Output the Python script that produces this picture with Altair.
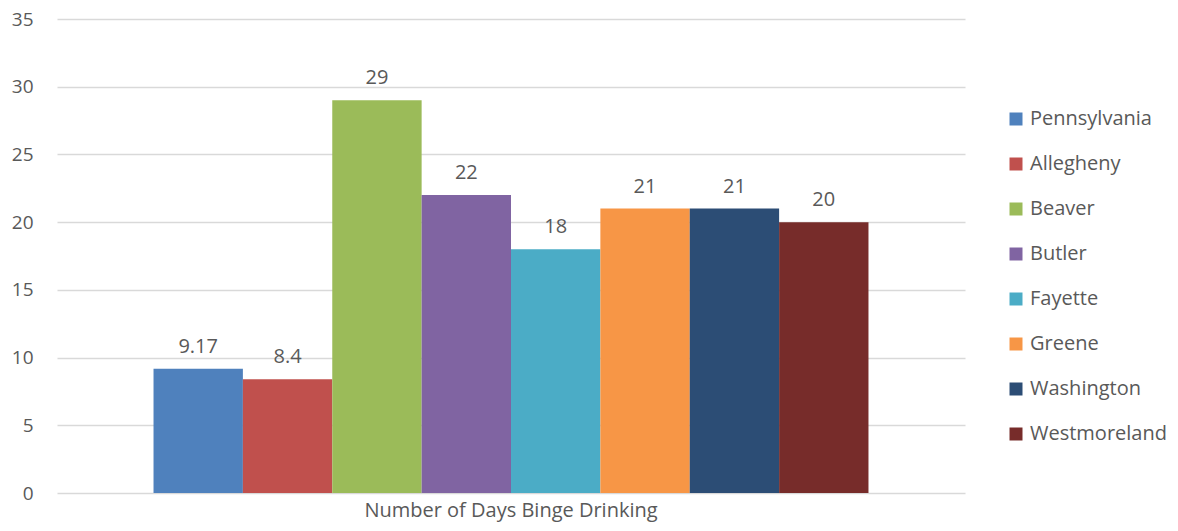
import altair as alt
import pandas as pd

counties = ["Pennsylvania", "Allegheny", "Beaver", "Butler", "Fayette", "Greene", "Washington", "Westmoreland"]
values = [9.17, 8.4, 29, 22, 18, 21, 21, 20]
labels = ["9.17", "8.4", "29", "22", "18", "21", "21", "20"]
colors = ["#4F81BD", "#C0504D", "#9BBB59", "#8064A2", "#4BACC6", "#F79646", "#2C4D75", "#772C2A"]
category = "Number of Days Binge Drinking"

df = pd.DataFrame({"county": counties, "value": values, "label": labels, "metric": [category] * len(counties)})

FONT = "Open Sans"
GREY = "#595959"

x = alt.X("metric:N", scale=alt.Scale(paddingOuter=0.135, paddingInner=0),
          axis=alt.Axis(title=None, labelFontSize=20, labelColor=GREY, labelFont=FONT, labelLimit=0,
                        domain=False, ticks=False, tickSize=0, labelPadding=7, labelAngle=0))
xo = alt.XOffset("county:N", sort=counties, scale=alt.Scale(paddingInner=0, paddingOuter=0))
y = alt.Y("value:Q", scale=alt.Scale(domain=[0, 35], nice=False),
          axis=alt.Axis(title=None, values=[0, 5, 10, 15, 20, 25, 30, 35], grid=True,
                        gridColor="#D9D9D9", gridWidth=1.3, domain=False, ticks=False, tickSize=0,
                        labelFontSize=19, labelColor=GREY, labelFont=FONT, labelPadding=24))

color = alt.Color("county:N", sort=counties,
                  scale=alt.Scale(domain=counties, range=colors),
                  legend=alt.Legend(title=None, orient="none", legendX=949, legendY=90,
                                    symbolType="square", symbolSize=169, symbolStrokeWidth=0,
                                    labelFontSize=20, labelColor=GREY, labelFont=FONT, labelLimit=0,
                                    labelOffset=4, rowPadding=25, padding=0))

bars = alt.Chart(df).mark_bar().encode(x=x, xOffset=xo, y=y, color=color)
text = alt.Chart(df).mark_text(baseline="bottom", dy=-12, fontSize=20, font=FONT, color=GREY).encode(
    x=x, xOffset=xo, y=y, text="label:N")

chart = (bars + text).properties(
    width=908, height=474,
    autosize=alt.AutoSizeParams(type="none"),
    padding={"left": 49, "top": 11, "right": 205, "bottom": 30},
).configure_view(stroke=None)

chart.save("out.html", embed_options={"renderer": "svg", "actions": False})
